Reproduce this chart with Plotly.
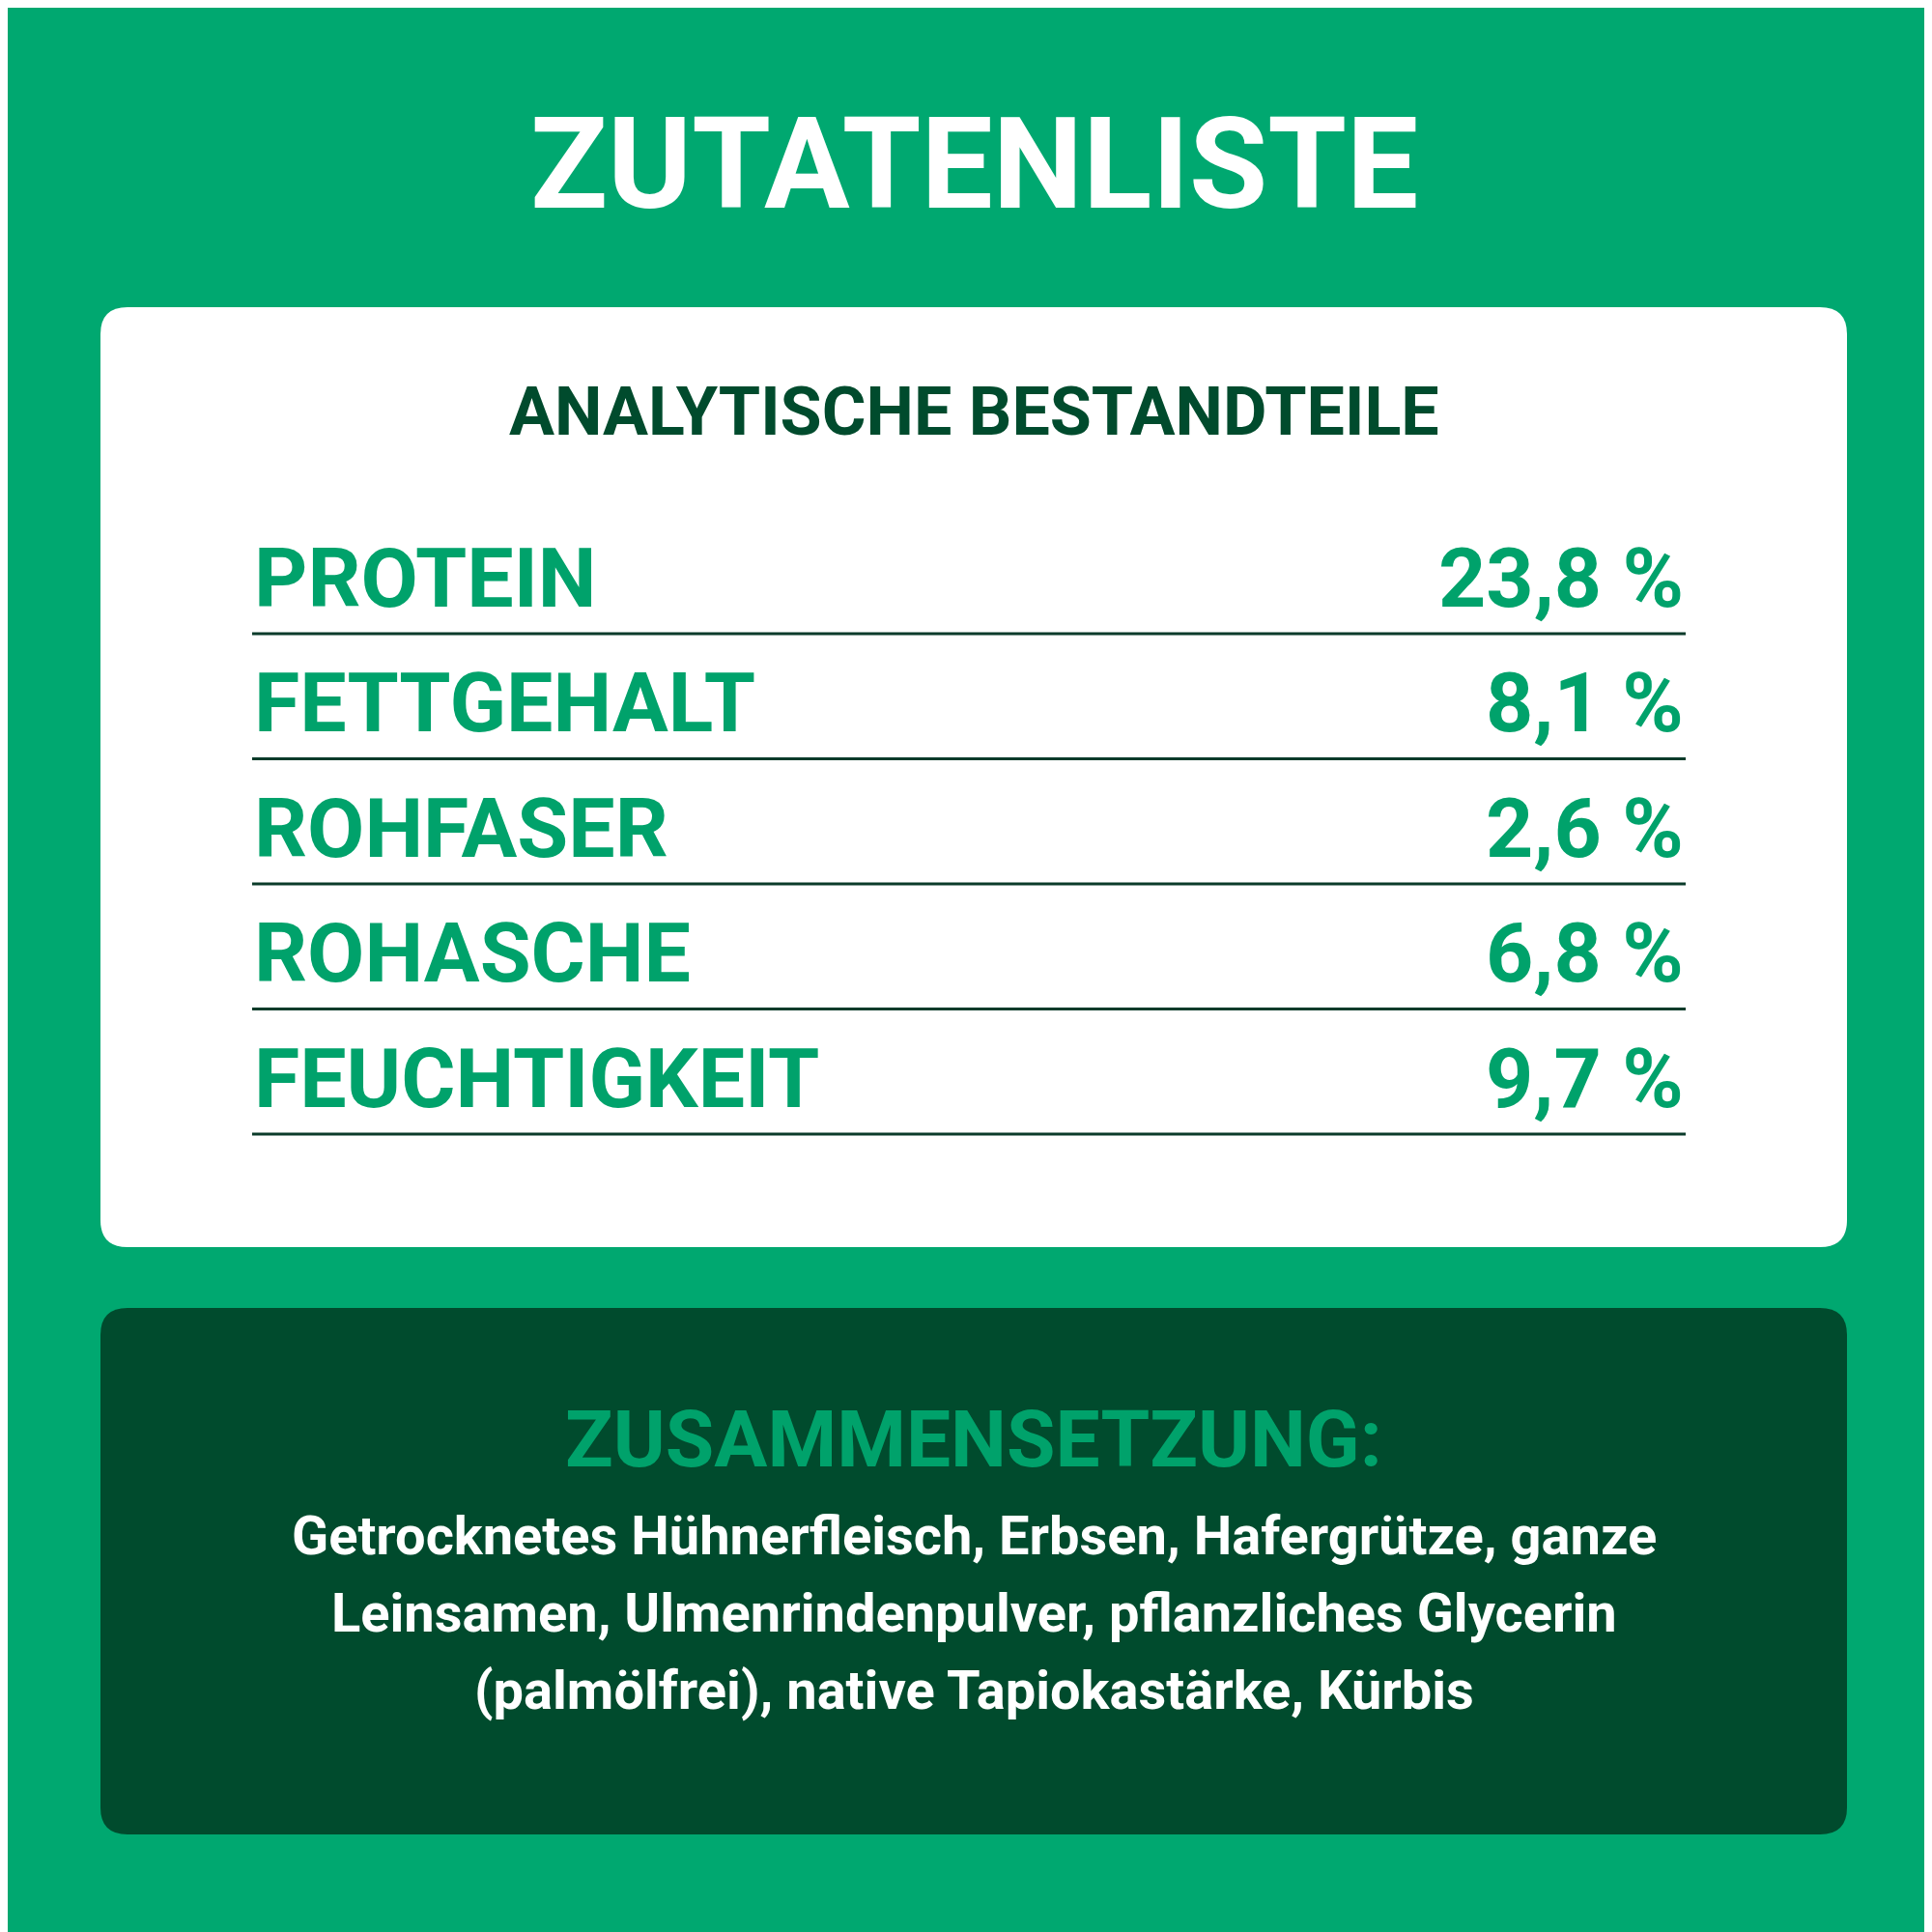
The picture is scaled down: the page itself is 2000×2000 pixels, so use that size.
import plotly.graph_objects as go

title = "ZUTATENLISTE"
subtitle = "ANALYTISCHE BESTANDTEILE"
labels = ["PROTEIN", "FETTGEHALT", "ROHFASER", "ROHASCHE", "FEUCHTIGKEIT"]
values = ["23,8 %", "8,1 %", "2,6 %", "6,8 %", "9,7 %"]
comp_title = "ZUSAMMENSETZUNG:"
comp_lines = [
    "Getrocknetes Hühnerfleisch, Erbsen, Hafergrütze, ganze",
    "Leinsamen, Ulmenrindenpulver, pflanzliches Glycerin",
    "(palmölfrei), native Tapiokastärke, Kürbis",
]

BG = "#00A870"
DARK = "#004B2D"
GREEN = "#00A26B"
FONT = "Roboto"


def rounded(x0, y0, x1, y1, r):
    return (f"M{x0+r},{y0} L{x1-r},{y0} Q{x1},{y0} {x1},{y0+r} "
            f"L{x1},{y1-r} Q{x1},{y1} {x1-r},{y1} L{x0+r},{y1} "
            f"Q{x0},{y1} {x0},{y1-r} L{x0},{y0+r} Q{x0},{y0} {x0+r},{y0} Z")


fig = go.Figure()
shapes = [
    dict(type="path", path=rounded(96, 310, 1904, 1283, 28), xref="x", yref="y",
         fillcolor="white", line=dict(width=0), layer="below"),
    dict(type="path", path=rounded(96, 1346, 1904, 1891, 28), xref="x", yref="y",
         fillcolor=DARK, line=dict(width=0), layer="below"),
]
annotations = [
    dict(x=1000, y=162, text=f"<b>{title}</b>", font=dict(family=FONT, size=132, color="white")),
    dict(x=1000, y=418, text=f"<b>{subtitle}</b>", font=dict(family=FONT, size=70, color=DARK)),
    dict(x=1000, y=1482, text=f"<b>{comp_title}</b>", font=dict(family=FONT, size=82, color=GREEN)),
]
row_y = 590
for lab, val in zip(labels, values):
    annotations.append(dict(x=253, y=row_y, text=f"<b>{lab}</b>", xanchor="left",
                            font=dict(family=FONT, size=86, color=GREEN)))
    annotations.append(dict(x=1737, y=row_y, text=f"<b>{val}</b>", xanchor="right",
                            font=dict(family=FONT, size=86, color=GREEN)))
    shapes.append(dict(type="line", x0=253, x1=1737, y0=row_y + 58, y1=row_y + 58,
                       xref="x", yref="y", line=dict(color="#0B3B2A", width=3)))
    row_y += 129.5
cy = 1582
for ln in comp_lines:
    annotations.append(dict(x=1000, y=cy, text=f"<b>{ln}</b>",
                            font=dict(family=FONT, size=56, color="white")))
    cy += 80
for a in annotations:
    a.update(xref="x", yref="y", showarrow=False, yanchor="middle")

fig.update_layout(
    width=2000, height=2000,
    margin=dict(l=0, r=0, t=0, b=0),
    paper_bgcolor=BG, plot_bgcolor=BG,
    showlegend=False,
    shapes=shapes, annotations=annotations,
    xaxis=dict(range=[0, 2000], visible=False, fixedrange=True),
    yaxis=dict(range=[2000, 0], visible=False, fixedrange=True),
)
fig.write_html("out.html")
